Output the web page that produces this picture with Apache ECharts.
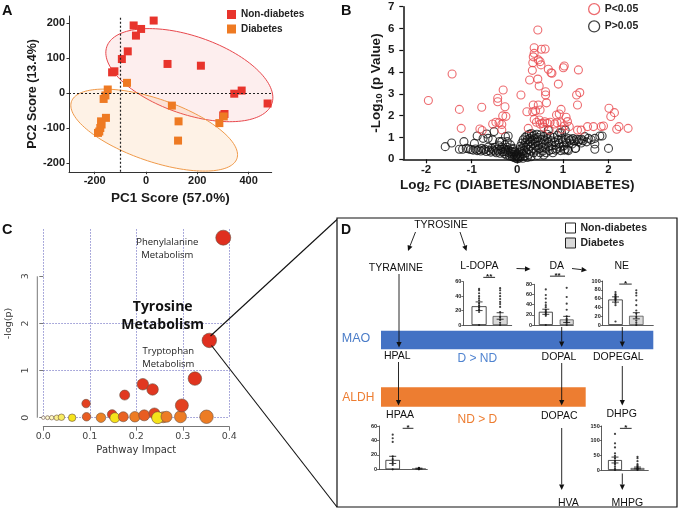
<!DOCTYPE html>
<html><head><meta charset="utf-8">
<script src="https://cdn.jsdelivr.net/npm/echarts@6/dist/echarts.min.js"></script>
<style>html,body{margin:0;padding:0;background:#fff}#c{width:678px;height:510px}</style>
</head><body><div id="c"></div>
<script>
// ================= DATA =================
// Panel A: PCA scores
const pcaXTicks = [-200, 0, 200, 400];
const pcaYTicks = [-200, -100, 0, 100, 200];
const pcaNonDiabetes = [[-48,193],[30,207],[-19,183],[-39,164],[-71,119],[-94,97],[-132,59],[-123,62],[84,83],[214,78],[344,-2],[373,7],[474,-30],[306,-60],[301,-64]];
const pcaDiabetes = [[-74,29],[-149,10],[-158,-7],[-165,-17],[-156,-71],[-175,-81],[-173,-90],[-178,-100],[-182,-110],[-187,-114],[101,-36],[127,-81],[125,-136],[286,-86],[303,-67]];
const pcaEllipseCenters = [[169,51],[32,-106]];

// Panel B: volcano
const volcanoXTicks = [-2, -1, 0, 1, 2];
const volcanoSig = [
[-1.95,2.70],[-1.43,3.91],[-1.27,2.29],[-1.23,1.42],[-0.78,2.39],[-0.82,1.39],[-0.77,1.32],
[-0.43,2.80],[-0.43,2.64],[-0.31,3.18],[-0.27,2.41],[-0.32,1.99],[-0.25,1.97],
[-0.54,1.62],[-0.47,1.70],[-0.40,1.68],[-0.34,1.60],[-0.34,1.35],
[0.08,2.95],[0.27,3.64],[0.33,4.08],[0.37,4.86],[0.37,5.12],[0.35,4.70],[0.34,4.43],
[0.45,3.68],[0.48,3.36],[0.45,5.93],[0.46,4.56],[0.50,4.48],[0.52,4.33],[0.53,5.05],[0.61,5.06],
[0.68,4.13],[0.74,3.97],[0.76,3.95],[1.03,4.28],[1.01,4.20],[1.34,4.10],[0.90,3.45],
[0.62,3.10],[0.62,2.95],[0.64,2.59],[1.30,2.95],[1.37,3.06],[1.32,2.49],
[0.35,2.49],[0.46,2.49],[0.50,2.26],[0.40,2.23],[0.34,2.18],[0.21,2.18],
[0.96,2.29],[0.86,2.03],[0.92,2.08],[1.07,1.93],[1.10,1.73],
[0.37,1.83],[0.48,1.80],[0.42,1.70],[0.55,1.65],[0.60,1.72],[0.66,1.65],[0.72,1.70],
[0.82,1.62],[0.87,1.68],[0.96,1.68],[1.03,1.53],[1.14,1.50],[1.40,1.34],[1.32,1.34],
[1.54,1.50],[1.67,1.50],[1.84,1.50],[1.89,1.53],[2.01,2.34],[2.13,2.14],[2.05,1.96],
[2.18,1.38],[2.23,1.50],[2.43,1.42],[0.24,1.42],[0.70,1.34],[0.97,1.38],[0.58,1.47],[0.50,1.62]
];
const volcanoNS = [
[-1.58,0.58],[-1.44,0.75],[-1.27,0.46],[-1.20,0.46],[-1.12,0.50],[-1.07,0.48],[-1.17,0.81],[-0.88,1.07],[-0.94,0.73],[-0.75,0.96],[-0.67,1.16],[-0.64,0.96],[-0.51,1.27],[-0.54,0.89],[-0.39,0.81],[-0.34,0.81],[-0.26,1.04],[-0.20,1.07],[-0.22,0.81],
[-1.02,0.45],[-0.97,0.42],[-0.92,0.47],[-0.88,0.40],[-0.84,0.44],[-0.80,0.38],[-0.78,0.50],[-0.74,0.42],[-0.71,0.46],[-0.68,0.36],[-0.64,0.55],[-0.62,0.40],[-0.58,0.33],[-0.56,0.50],[-0.53,0.42],[-0.49,0.55],[-0.49,0.37],[-0.46,0.30],[-0.44,0.46],[-0.42,0.38],[-0.40,0.62],[-0.38,0.28],[-0.36,0.44],[-0.34,0.55],[-0.32,0.35],[-0.30,0.48],[-0.28,0.25],[-0.27,0.66],[-0.27,0.35],[-0.25,0.42],[-0.23,0.20],[-0.22,0.55],[-0.20,0.43],[-0.19,0.30],[-0.17,0.15],[-0.15,0.66],[-0.15,0.36],[-0.14,0.24],[-0.12,0.35],[-0.11,0.12],[-0.10,0.45],[-0.09,0.50],[-0.08,0.22],[-0.07,0.08],[-0.06,0.30],[-0.05,0.35],[-0.04,0.15],[-0.03,0.05],[-0.02,0.20],[-0.01,0.24],[0.00,0.02],[0.01,0.10],[0.02,0.12],
[0.03,0.30],[0.04,0.05],[0.05,0.45],[0.06,0.20],[0.07,0.60],[0.08,0.12],[0.09,0.35],[0.10,0.75],[0.11,0.50],[0.12,0.25],[0.13,0.90],[0.14,0.62],[0.15,0.40],[0.16,0.15],[0.17,1.00],[0.18,0.78],[0.19,0.55],[0.20,0.30],[0.21,1.08],[0.22,0.90],[0.23,0.68],[0.24,0.45],[0.25,0.22],[0.26,1.15],[0.27,0.95],[0.28,0.80],[0.29,0.60],[0.30,0.38],[0.31,1.18],[0.32,1.05],[0.33,0.88],[0.34,0.70],[0.35,0.50],[0.36,0.30],[0.37,1.10],[0.38,0.95],[0.40,0.78],[0.41,0.60],[0.42,0.42],[0.43,1.15],[0.45,1.00],[0.46,0.85],[0.47,0.65],[0.48,0.48],[0.50,0.30],[0.51,1.12],[0.52,0.92],[0.54,0.75],[0.55,0.55],[0.56,0.38],[0.58,1.05],[0.60,0.88],[0.61,0.68],[0.62,0.50],[0.63,0.30],[0.65,1.15],[0.66,0.95],[0.68,0.78],[0.69,0.58],[0.70,0.40],[0.72,1.05],[0.74,0.85],[0.75,0.62],[0.76,0.45],[0.78,0.30],[0.80,1.00],[0.82,0.80],[0.84,0.65],[0.86,0.48],[0.88,1.10],[0.90,0.90],[0.92,0.72],[0.94,0.55],[0.95,0.40],[0.97,1.22],[0.98,0.95],[1.00,0.80],[1.02,0.62],[1.03,0.42],[1.05,1.34],[1.06,0.90],[1.08,0.75],[1.10,0.45],[1.12,0.95],[1.15,0.85],[1.18,0.90],[1.20,0.70],[1.22,0.95],[1.25,0.85],[1.28,0.50],[1.30,0.92],[1.33,0.80],[1.36,0.90],[1.40,0.75],[1.44,0.85],[1.48,1.04],[1.52,0.80],[1.56,0.96],[1.62,0.90],[1.70,0.96],[1.70,0.70],[1.70,0.46],[1.81,1.07],[1.86,1.07],[2.00,0.50],[0.68,1.34],[0.93,1.22],[0.84,0.42],[1.12,0.40],[0.58,0.20],[0.44,0.18],[0.30,0.12],[0.22,0.08],[0.12,0.05],[1.41,0.92],[1.05,0.46],[1.27,0.50]
];

// Panel C: pathway impact [impact, -log(p), bubble size, significance level 0..1]
const pathwayXTicks = [0, 0.1, 0.2, 0.3, 0.4];
const pathwayYTicks = [0, 1, 2, 3];
const pathwayBubbles = [
[0.000,0.00,3.5,0.00],[0.009,0.00,4,0.08],[0.018,0.00,4.5,0.12],[0.029,0.00,5.5,0.20],[0.039,0.01,6.5,0.25],
[0.062,0.00,7.5,0.34],[0.093,0.02,8.5,0.82],[0.124,0.00,9.5,0.67],[0.148,0.07,9.5,0.95],[0.154,0.00,10,0.34],
[0.172,0.02,10,0.80],[0.197,0.02,10.5,0.70],[0.217,0.05,11,0.82],[0.239,0.09,11,0.92],[0.258,0.01,11,0.67],
[0.246,0.00,12,0.34],[0.265,0.02,11,0.70],[0.295,0.02,12,0.70],[0.351,0.02,13.5,0.70],
[0.092,0.30,8.5,0.93],[0.175,0.48,10,0.96],[0.214,0.71,11.5,0.97],[0.235,0.60,11.5,0.97],[0.298,0.26,13,0.93],
[0.326,0.83,13.5,0.98],[0.357,1.64,14.5,1.00],[0.387,3.82,15,1.00]
];
const pathwayNames = ['Phenylalanine\nMetabolism', 'Tyrosine\nMetabolism', 'Tryptophan\nMetabolism'];

// Panel D: mini bar charts [Non-diabetes, Diabetes]
const miniNames = ['L-DOPA', 'DA', 'NE', 'HPAA', 'DHPG'];
const miniMeans = [[26,12.5],[26,11],[58,21],[13,1],[34,7]];
const miniSem = [[6,4.5],[5,6],[6,7],[5,0.6],[10,3]];
const miniNDdots = [
 [0,18,21,24,27,30,34,37,40,44,48,50],
 [0,18,21,24,27,30,35,39,44,52,59,70],
 [8,45,50,55,58,60,62,65,68,70,75],
 [0,6,10,14,18,38,43,48],
 [0,5,11,18,23,30,40,48,57,77,91,123]
];
const miniDdots = [
 [0,3,7,11,18,25,29,32,36,40,44,48,51],
 [0,4,8,12,17,30,42,55,73],
 [0,5,10,18,26,33,45,56,67,73,79],
 [0,0.5,1,1.5,2],
 [0,3,5,8,12,15,20,30,40,45]
];
const miniSigStars = ['**','**','*','*','*'];
const miniYMax = [60,80,100,60,150];
const miniYStep = [20,20,20,20,50];

// ================= LAYOUT / STYLE =================
const FA = "'Liberation Sans', Arial, sans-serif";
const FC = "'DejaVu Sans', sans-serif";
const FO = "'Open Sans', sans-serif";
const RED = '#e8342c', ORANGE = '#ee7a23', VRED = '#e8474c';

const miniLayout = [
 {left:463.3, top:281.7, width:48.4, height:43.3, xmin:0.25, xmax:2.55, bw:15, sig:[1.2,1.76,66]},
 {left:534, top:284.3, width:39.3, height:40.7, xmin:0.435, xmax:2.316, bw:14, sig:[1.2,1.92,96]},
 {left:602.7, top:281, width:50.6, height:44, xmin:0.385, xmax:2.817, bw:14.5, sig:[1.18,1.78,93]},
 {left:379, top:426, width:48.3, height:43.3, xmin:0.477, xmax:2.32, bw:14.5, sig:[1.38,1.79,56.8]},
 {left:601.7, top:426, width:46.6, height:44, xmin:0.409, xmax:2.48, bw:14, sig:[1.22,1.74,142]}
];
const ellipseStyle = [
 {a:87.3, b:39, ang:19, fill:'rgba(240,120,120,0.13)', stroke:'#e8474c'},
 {a:87.5, b:31.2, ang:19, fill:'rgba(245,170,90,0.15)', stroke:'#f09a4a'}
];

function renderEllipse(params, api){
  const s = ellipseStyle[params.dataIndex];
  const c = api.coord([api.value(0), api.value(1)]);
  const th = s.ang*Math.PI/180, pts = [];
  for (let k=0;k<144;k++){
    const t = k/144*2*Math.PI;
    pts.push([c[0]+s.a*Math.cos(t)*Math.cos(th)-s.b*Math.sin(t)*Math.sin(th),
              c[1]+s.a*Math.cos(t)*Math.sin(th)+s.b*Math.sin(t)*Math.cos(th)]);
  }
  return {type:'polygon', shape:{points:pts}, style:{fill:s.fill, stroke:s.stroke, lineWidth:1}};
}
function renderErr(params, api){
  const x = api.value(0);
  const lo = api.coord([x, api.value(1)]), hi = api.coord([x, api.value(2)]);
  const cap = 3.5, st = {stroke:'#111', lineWidth:0.8};
  return {type:'group', children:[
    {type:'line', shape:{x1:lo[0],y1:lo[1],x2:hi[0],y2:hi[1]}, style:st},
    {type:'line', shape:{x1:hi[0]-cap,y1:hi[1],x2:hi[0]+cap,y2:hi[1]}, style:st},
    {type:'line', shape:{x1:lo[0]-cap,y1:lo[1],x2:lo[0]+cap,y2:lo[1]}, style:st}
  ]};
}
function makeSig(i){
  return function(params, api){
    const p1 = api.coord([api.value(0), api.value(2)]), p2 = api.coord([api.value(1), api.value(2)]);
    return {type:'group', children:[
      {type:'line', shape:{x1:p1[0],y1:p1[1],x2:p2[0],y2:p2[1]}, style:{stroke:'#111', lineWidth:0.9}},
      {type:'text', x:(p1[0]+p2[0])/2, y:p1[1]-4.2, style:{text:miniSigStars[i], fontSize:8, fontWeight:'bold', fontFamily:FA, fill:'#111', align:'center', verticalAlign:'top', textAlign:'center', textVerticalAlign:'top'}}
    ]};
  };
}

// ================= AXES / GRIDS =================
const grids = [
  {left:69, top:16, width:202.7, height:155.75},
  {left:403.3, top:6.7, width:228, height:152.6},
  {left:43.3, top:229.2, width:186, height:188.5}
];
miniLayout.forEach(m => grids.push({left:m.left, top:m.top, width:m.width, height:m.height}));
grids.forEach(g => { g.outerBoundsMode = 'none'; g.containLabel = false; });

const boldLbl = (fs, extra) => Object.assign({fontFamily:FA, fontWeight:'bold', fontSize:fs, color:'#1a1a1a'}, extra||{});
const xAxes = [
  {gridIndex:0, type:'value', min:-300, max:490,
   axisLine:{show:true, onZero:false, lineStyle:{color:'#333', width:1}},
   axisTick:{show:true, length:2.5, customValues:pcaXTicks, lineStyle:{color:'#333'}},
   axisLabel:boldLbl(11,{customValues:pcaXTicks, margin:4}), splitLine:{show:false},
   name:'PC1 Score (57.0%)', nameLocation:'middle', nameGap:20, nameTextStyle:boldLbl(13.5)},
  {gridIndex:1, type:'value', min:-2.5, max:2.5,
   axisLine:{show:true, onZero:false, lineStyle:{color:'#111', width:1.5}},
   axisTick:{show:true, length:4, customValues:volcanoXTicks, lineStyle:{color:'#111', width:1.2}},
   axisLabel:boldLbl(11.5,{customValues:volcanoXTicks, margin:5}), splitLine:{show:false},
   name:'Log{s|2} FC (DIABETES/NONDIABETES)', nameLocation:'middle', nameGap:18,
   nameTextStyle:boldLbl(13.5,{rich:{s:{fontFamily:FA, fontWeight:'bold', fontSize:9, color:'#1a1a1a', verticalAlign:'bottom', padding:[7,0,0,0]}}})},
  {gridIndex:2, type:'value', min:0, max:0.4, interval:0.1, offset:9,
   axisLine:{show:true, onZero:false, lineStyle:{color:'#777', width:1}},
   axisTick:{show:true, length:4, lineStyle:{color:'#777'}},
   axisLabel:{fontFamily:FC, fontSize:9.5, color:'#444', margin:5, formatter:v=>v.toFixed(1)},
   splitLine:{show:true, lineStyle:{color:'#8585cc', type:[1.5,1.5], width:0.9}},
   name:'Pathway Impact', nameLocation:'middle', nameGap:19, nameTextStyle:{fontFamily:FC, fontSize:10, color:'#333'}}
];
const yAxes = [
  {gridIndex:0, type:'value', min:-225, max:220,
   axisLine:{show:true, onZero:false, lineStyle:{color:'#333', width:1}},
   axisTick:{show:true, length:2.5, customValues:pcaYTicks, lineStyle:{color:'#333'}},
   axisLabel:boldLbl(11,{customValues:pcaYTicks, margin:4}), splitLine:{show:false},
   name:'PC2 Score (13.4%)', nameLocation:'middle', nameGap:24, nameTextStyle:boldLbl(12.5)},
  {gridIndex:1, type:'value', min:0, max:7, interval:1,
   axisLine:{show:true, onZero:false, lineStyle:{color:'#111', width:1.5}},
   axisTick:{show:true, length:4, lineStyle:{color:'#111', width:1.2}},
   axisLabel:boldLbl(11.5,{margin:9}), splitLine:{show:false},
   name:'-Log{s|10} (p Value)', nameLocation:'middle', nameGap:12,
   nameTextStyle:boldLbl(13.5,{rich:{s:{fontFamily:FA, fontWeight:'bold', fontSize:9, color:'#1a1a1a', verticalAlign:'bottom', padding:[7,0,0,0]}}})},
  {gridIndex:2, type:'value', min:0, max:4, interval:1, offset:6,
   axisLine:{show:false},
   axisTick:{show:true, length:4, customValues:pathwayYTicks, lineStyle:{color:'#777'}},
   axisLabel:{customValues:pathwayYTicks, rotate:90, fontFamily:FC, fontSize:9.5, color:'#444', margin:7},
   splitLine:{show:true, showMaxLine:false, lineStyle:{color:'#8585cc', type:[1.5,1.5], width:0.9}},
   name:'-log(p)', nameLocation:'middle', nameGap:24, nameTextStyle:{fontFamily:FC, fontSize:9.5, color:'#333'}}
];
miniLayout.forEach((m,i) => {
  xAxes.push({gridIndex:3+i, type:'value', min:m.xmin, max:m.xmax,
    axisLine:{show:true, onZero:false, lineStyle:{color:'#333', width:0.8}},
    axisTick:{show:false}, axisLabel:{show:false}, splitLine:{show:false}});
  yAxes.push({gridIndex:3+i, type:'value', min:0, max:miniYMax[i], interval:miniYStep[i],
    axisLine:{show:true, lineStyle:{color:'#333', width:0.8}},
    axisTick:{show:true, length:2, lineStyle:{color:'#333', width:0.7}},
    axisLabel:{fontFamily:FA, fontWeight:'bold', fontSize:5.5, color:'#222', margin:2},
    splitLine:{show:false}});
});

// ================= SERIES =================
const series = [
  {type:'custom', xAxisIndex:0, yAxisIndex:0, renderItem:renderEllipse, data:pcaEllipseCenters, z:1, silent:true},
  {type:'scatter', name:'Non-diabetes', xAxisIndex:0, yAxisIndex:0, data:pcaNonDiabetes, symbol:'rect', symbolSize:8,
   itemStyle:{color:RED, opacity:1}, z:3,
   markLine:{silent:true, symbol:'none', label:{show:false}, animation:false,
     lineStyle:{color:'#222', type:[2,2], width:1.2}, data:[{xAxis:-100},{yAxis:0}]}},
  {type:'scatter', name:'Diabetes', xAxisIndex:0, yAxisIndex:0, data:pcaDiabetes, symbol:'rect', symbolSize:8,
   itemStyle:{color:ORANGE, opacity:1}, z:4},
  {type:'scatter', name:'P>0.05', xAxisIndex:1, yAxisIndex:1, data:volcanoNS, symbol:'circle', symbolSize:8,
   itemStyle:{color:'rgba(0,0,0,0)', borderColor:'#111', borderWidth:1.1}, z:3, clip:false},
  {type:'scatter', name:'P<0.05', xAxisIndex:1, yAxisIndex:1, data:volcanoSig, symbol:'circle', symbolSize:8,
   itemStyle:{color:'rgba(0,0,0,0)', borderColor:VRED, borderWidth:1.1}, z:4, clip:false},
  {type:'scatter', name:'pathways', xAxisIndex:2, yAxisIndex:2, data:pathwayBubbles, symbol:'circle',
   symbolSize:d=>d[2], itemStyle:{borderColor:'#6b5040', borderWidth:0.6, opacity:1}, z:4, clip:false}
];
miniLayout.forEach((m,i) => {
  const ax = {xAxisIndex:3+i, yAxisIndex:3+i};
  series.push(Object.assign({type:'bar', name:'Non-diabetes ', barWidth:m.bw, barGap:'-100%', data:[[1, miniMeans[i][0]]],
    itemStyle:{color:'#ffffff', borderColor:'#222', borderWidth:0.8}, z:2}, ax));
  series.push(Object.assign({type:'bar', name:'Diabetes ', barWidth:m.bw, barGap:'-100%', data:[[2, miniMeans[i][1]]],
    itemStyle:{color:'#d9d9d9', borderColor:'#555', borderWidth:0.8}, z:2}, ax));
  series.push(Object.assign({type:'scatter', name:'ndDots'+i, symbolSize:2.2, data:miniNDdots[i].map(v=>[1,v]),
    itemStyle:{color:'#111'}, z:3, clip:false}, ax));
  series.push(Object.assign({type:'scatter', name:'dDots'+i, symbolSize:2.2, data:miniDdots[i].map(v=>[2,v]),
    itemStyle:{color:'#111'}, z:3, clip:false}, ax));
  series.push(Object.assign({type:'custom', name:'err'+i, renderItem:renderErr, z:4, clip:false,
    data:[0,1].map(k=>[k+1, miniMeans[i][k]-miniSem[i][k], miniMeans[i][k]+miniSem[i][k]])}, ax));
  series.push(Object.assign({type:'custom', name:'sig'+i, renderItem:makeSig(i), z:4, clip:false,
    data:[m.sig]}, ax));
});

// ================= GRAPHICS (panel letters, panel D diagram) =================
function T(x,y,text,o){ o=o||{};
  return {type:'text', x:x, y:y, z:o.z||20, style:{text:text, fontFamily:o.ff||FA, fontSize:o.fs||10.5, fontWeight:o.fw||'normal',
    fill:o.c||'#111', align:o.al||'center', verticalAlign:o.va||'middle', textAlign:o.al||'center', textVerticalAlign:o.va||'middle', lineHeight:o.lh}}; }
function L(x1,y1,x2,y2,w,c){ return {type:'line', z:20, shape:{x1:x1,y1:y1,x2:x2,y2:y2}, style:{stroke:c||'#111', lineWidth:w||1}}; }
function ARROW(x1,y1,x2,y2){
  const dx=x2-x1, dy=y2-y1, len=Math.hypot(dx,dy), ux=dx/len, uy=dy/len, hl=5.5, hw=2.6;
  const bx=x2-ux*hl, by=y2-uy*hl;
  return [L(x1,y1,bx,by,0.9), {type:'polygon', z:20, shape:{points:[[x2,y2],[bx-uy*hw,by+ux*hw],[bx+uy*hw,by-ux*hw]]}, style:{fill:'#111'}}];
}
const gC = grids[2];
const graphics = [
  T(2,3,'A',{fw:'bold',fs:14.5,al:'left',va:'top'}),
  T(341,3,'B',{fw:'bold',fs:14.5,al:'left',va:'top'}),
  T(2,222,'C',{fw:'bold',fs:14.5,al:'left',va:'top'}),
  // C y-axis line spanning 0..3
  L(gC.left-6, gC.top+gC.height, gC.left-6, gC.top+gC.height/4, 1, '#777'),
  T(167.3,249.2,pathwayNames[0],{ff:FO,fs:9.5,lh:13,c:'#222'}),
  T(162.7,315.8,pathwayNames[1],{ff:FO,fs:14,fw:'bold',lh:18.3,c:'#111'}),
  T(168.3,358,pathwayNames[2],{ff:FO,fs:9.5,lh:12.7,c:'#222'}),
  // connectors C -> D
  L(210.5,336,337,219.5,1.1), L(211.5,345.5,337,507,1.1),
  // D box
  {type:'rect', z:20, shape:{x:337, y:218, width:340, height:289}, style:{fill:'none', stroke:'#111', lineWidth:1.2}},
  // enzyme bands
  {type:'rect', z:5, shape:{x:381, y:330.7, width:272.3, height:18.6}, style:{fill:'#4472c4'}},
  {type:'rect', z:5, shape:{x:381, y:387.3, width:204.7, height:19.4}, style:{fill:'#ed7d31'}},
  T(346,229.7,'D',{fw:'bold',fs:14}),
  T(441,225,'TYROSINE'),
  T(396,268,'TYRAMINE'),
  T(479.3,265.7,miniNames[0]),
  T(556.7,265.7,miniNames[1]),
  T(621.7,265.7,miniNames[2]),
  T(356,338.3,'MAO',{fs:12.5,c:'#4a7cc8'}),
  T(397.3,355.7,'HPAL'),
  T(477.3,359,'D > ND',{fs:12,c:'#4f83d0'}),
  T(559,356.7,'DOPAL'),
  T(618.3,356.7,'DOPEGAL'),
  T(358.3,397.3,'ALDH',{fs:12,c:'#ed7d31'}),
  T(400,415,miniNames[3]),
  T(477.3,419.3,'ND > D',{fs:12,c:'#ed7d31'}),
  T(559.3,416,'DOPAC'),
  T(621.7,414,miniNames[4]),
  T(568.3,502.7,'HVA'),
  T(627.3,502.7,'MHPG')
].concat(
  ARROW(415.5,232,408,251), ARROW(460,232,466.5,251),
  ARROW(516.5,268.5,530.5,269), ARROW(572,268.5,587,270.3),
  ARROW(399,274,399,347.5), ARROW(398.5,362,398.5,405.5),
  ARROW(561.7,327,561.7,347), ARROW(622.3,327,622.3,347),
  ARROW(561.7,363,561.7,405.5), ARROW(622.3,366,622.3,405.5),
  ARROW(561.7,428,561.7,490), ARROW(622.3,473.5,622.3,490)
);

const option = {
  animation:false,
  backgroundColor:'#ffffff',
  grid:grids, xAxis:xAxes, yAxis:yAxes, series:series,
  visualMap:[{type:'continuous', show:false, seriesIndex:5, dimension:3, min:0, max:1,
    inRange:{color:['#fffff5','#fbf3a8','#f5e51a','#f2b62a','#ee8424','#e85a22','#df2f1f']}}],
  legend:[
    {left:227, top:9.5, orient:'vertical', padding:0, itemWidth:9, itemHeight:9, itemGap:4.5, selectedMode:false,
     data:[{name:'Non-diabetes', icon:'rect'},{name:'Diabetes', icon:'rect'}],
     textStyle:{fontFamily:FA, fontWeight:'bold', fontSize:10, color:'#222'}},
    {left:588, top:3, orient:'vertical', padding:0, itemWidth:11, itemHeight:11, itemGap:5, selectedMode:false,
     data:[{name:'P<0.05', icon:'circle', itemStyle:{color:'rgba(0,0,0,0)', borderColor:VRED, borderWidth:1.3}},
           {name:'P>0.05', icon:'circle', itemStyle:{color:'rgba(0,0,0,0)', borderColor:'#111', borderWidth:1.3}}],
     textStyle:{fontFamily:FA, fontWeight:'bold', fontSize:10.5, color:'#222'}},
    {left:565, top:222.5, orient:'vertical', padding:0, itemWidth:10, itemHeight:10, itemGap:4, selectedMode:false,
     data:[{name:'Non-diabetes ', icon:'rect', itemStyle:{color:'#ffffff', borderColor:'#222', borderWidth:1}},
           {name:'Diabetes ', icon:'rect', itemStyle:{color:'#d9d9d9', borderColor:'#222', borderWidth:1}}],
     textStyle:{fontFamily:FA, fontWeight:'bold', fontSize:10.5, color:'#222'}}
  ],
  graphic:{elements:graphics}
};
const chart = echarts.init(document.getElementById('c'), null, {renderer:'canvas'});
chart.setOption(option);
</script></body></html>
